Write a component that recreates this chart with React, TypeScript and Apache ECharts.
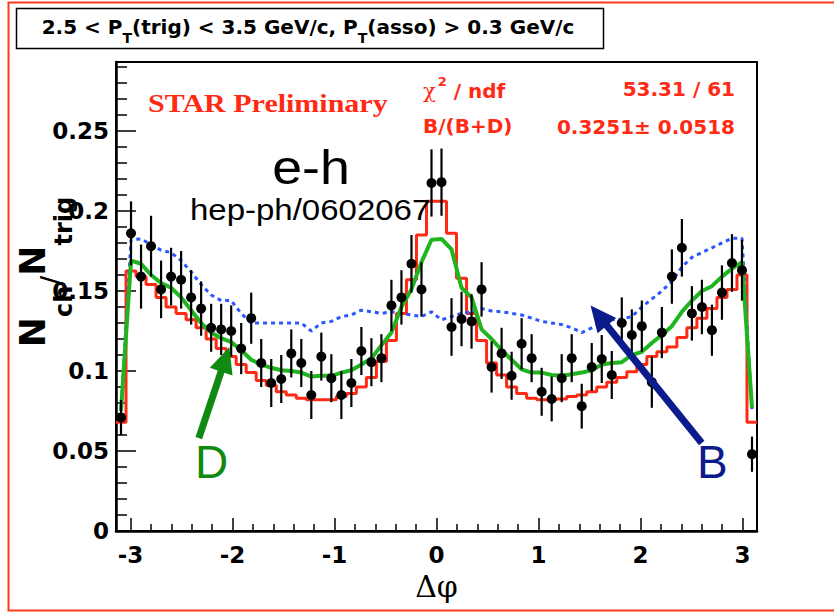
import React, { useEffect, useRef } from "react";
import * as echarts from "echarts";

// Δφ binning: 64 equal bins over [-π, π]
const PHI_LO = -Math.PI;
const PHI_HI = Math.PI;
const N_BINS = 64;

// measured e-h azimuthal correlation per trigger
const measured = [
  0.071, 0.186, 0.159, 0.178, 0.151, 0.159, 0.157, 0.146, 0.139, 0.127,
  0.126, 0.125, 0.114, 0.133, 0.105, 0.0925, 0.095, 0.111, 0.105, 0.085,
  0.109, 0.0955, 0.085, 0.0925, 0.1125, 0.1055, 0.108, 0.141, 0.146, 0.167,
  0.151, 0.2175, 0.218, 0.1275, 0.1325, 0.131, 0.151, 0.1025, 0.111, 0.097,
  0.117, 0.108, 0.087, 0.0825, 0.0955, 0.108, 0.078, 0.1025, 0.1075, 0.0975,
  0.13, 0.1225, 0.128, 0.093, 0.124, 0.159, 0.177, 0.136, 0.14, 0.1255,
  0.149, 0.1675, 0.163, 0.048,
];
const measuredErr = [
  0.011, 0.02, 0.02, 0.019, 0.018, 0.018, 0.018, 0.017, 0.017, 0.015,
  0.016, 0.016, 0.016, 0.016, 0.015, 0.015, 0.015, 0.015, 0.015, 0.015,
  0.015, 0.015, 0.015, 0.015, 0.015, 0.015, 0.015, 0.016, 0.017, 0.018,
  0.017, 0.021, 0.021, 0.018, 0.017, 0.017, 0.017, 0.016, 0.016, 0.015,
  0.016, 0.015, 0.015, 0.014, 0.015, 0.015, 0.014, 0.015, 0.015, 0.015,
  0.016, 0.016, 0.016, 0.016, 0.016, 0.017, 0.018, 0.017, 0.017, 0.016,
  0.017, 0.018, 0.019, 0.011,
];
// combined fit: B/(B+D) fraction of the B template plus the D template
const fitSum = [
  0.068, 0.1625, 0.159, 0.154, 0.146, 0.14, 0.136, 0.132, 0.127, 0.12,
  0.114, 0.109, 0.104, 0.099, 0.094, 0.091, 0.087, 0.085, 0.083, 0.082,
  0.082, 0.082, 0.084, 0.086, 0.09, 0.096, 0.106, 0.119, 0.136, 0.157,
  0.185, 0.206, 0.206, 0.186, 0.158, 0.136, 0.119, 0.105, 0.0975, 0.09,
  0.086, 0.083, 0.082, 0.082, 0.0825, 0.084, 0.085, 0.087, 0.09, 0.093,
  0.096, 0.0995, 0.104, 0.109, 0.112, 0.115, 0.121, 0.127, 0.133, 0.139,
  0.146, 0.151, 0.16, 0.068,
];
// D-decay electron template
const templateD = [
  0.075, 0.169, 0.167, 0.16, 0.155, 0.152, 0.146, 0.138, 0.13, 0.124,
  0.1205, 0.118, 0.113, 0.107, 0.104, 0.102, 0.1005, 0.1, 0.099, 0.0965,
  0.097, 0.097, 0.099, 0.1005, 0.104, 0.108, 0.116, 0.124, 0.14, 0.151,
  0.168, 0.182, 0.1825, 0.176, 0.152, 0.146, 0.126, 0.12, 0.113, 0.107,
  0.101, 0.099, 0.099, 0.0975, 0.097, 0.098, 0.099, 0.1005, 0.104, 0.105,
  0.1055, 0.11, 0.112, 0.1175, 0.1225, 0.128, 0.137, 0.144, 0.15, 0.153,
  0.159, 0.164, 0.168, 0.077,
];
// B-decay electron template
const templateB = [
  0.0755, 0.182, 0.1825, 0.179, 0.1755, 0.174, 0.169, 0.162, 0.154, 0.1475,
  0.144, 0.144, 0.136, 0.13, 0.13, 0.13, 0.13, 0.13, 0.13, 0.125,
  0.13, 0.131, 0.134, 0.135, 0.138, 0.137, 0.136, 0.137, 0.136, 0.135,
  0.134, 0.137, 0.132, 0.134, 0.136, 0.137, 0.139, 0.1375, 0.137, 0.136,
  0.135, 0.133, 0.131, 0.13, 0.129, 0.127, 0.124, 0.127, 0.13, 0.132,
  0.1325, 0.134, 0.14, 0.145, 0.15, 0.156, 0.165, 0.171, 0.174, 0.177,
  0.18, 0.183, 0.183, 0.0755,
];

// annotation arrows, in (Δφ, N) coordinates: tail -> tip
const arrowD = { from: [-2.33, 0.058], to: [-2.03, 0.115] };
const arrowB = { from: [2.6, 0.055], to: [1.51, 0.141] };

const Y_MAX = 0.2931;

const SANS_BOLD = "DejaVu Sans";
const RED = "#ff2a14";
const GREEN_LINE = "#1fb51f";
const GREEN_DARK = "#108a10";
const BLUE_DOT = "#2a58ff";
const NAVY = "#0b1b8c";

export default function App() {
  const ref = useRef<HTMLDivElement>(null);

  useEffect(() => {
    if (!ref.current) return;
    const chart = echarts.init(ref.current, undefined, { renderer: "svg" });

    const w = (PHI_HI - PHI_LO) / N_BINS;
    const centers = measured.map((_, i) => PHI_LO + (i + 0.5) * w);
    const fitSteps: number[][] = fitSum.map((v, i) => [PHI_LO + i * w, v]);
    fitSteps.push([PHI_HI, fitSum[fitSum.length - 1]]);

    const axisFont = { fontFamily: SANS_BOLD, fontWeight: "bold" as const, fontSize: 23, color: "#000" };

    chart.setOption({
      animation: false,
      backgroundColor: "#fff",
      grid: {
        left: 116,
        top: 62,
        width: 641,
        height: 469,
        show: true,
        borderColor: "#000",
        borderWidth: 2,
        backgroundColor: "transparent",
      },
      xAxis: {
        type: "value",
        min: PHI_LO,
        max: PHI_HI,
        splitNumber: 6,
        axisLine: { show: true, onZero: false, lineStyle: { color: "#000", width: 2.5 } },
        axisTick: { show: true, inside: true, length: 13, lineStyle: { color: "#000", width: 1.5 } },
        minorTick: { show: true, splitNumber: 5, length: 7, lineStyle: { color: "#000", width: 1.5 } },
        splitLine: { show: false },
        axisLabel: { ...axisFont, margin: 12, showMinLabel: false, showMaxLabel: false },
        name: "Δφ",
        nameLocation: "middle",
        nameGap: 40,
        nameTextStyle: { fontFamily: "DejaVu Serif", fontSize: 30, color: "#000" },
      },
      yAxis: {
        type: "value",
        min: 0,
        max: Y_MAX,
        interval: 0.05,
        axisLine: { show: true, onZero: false, lineStyle: { color: "#000", width: 2.5 } },
        axisTick: { show: true, inside: true, length: 20, lineStyle: { color: "#000", width: 1.5 } },
        minorTick: { show: true, splitNumber: 5, length: 11, lineStyle: { color: "#000", width: 1.5 } },
        splitLine: { show: false },
        axisLabel: { ...axisFont, margin: 7, showMaxLabel: false },
      },
      series: [
        {
          name: "fit",
          type: "line",
          step: "end",
          data: fitSteps,
          symbol: "none",
          lineStyle: { color: RED, width: 3 },
          z: 2,
          clip: true,
        },
        {
          name: "B",
          type: "line",
          data: centers.map((x, i) => [x, templateB[i]]),
          symbol: "none",
          lineStyle: { color: BLUE_DOT, width: 3, type: [4, 4] },
          z: 2,
          clip: true,
        },
        {
          name: "D",
          type: "line",
          data: centers.map((x, i) => [x, templateD[i]]),
          symbol: "none",
          lineStyle: { color: GREEN_LINE, width: 4 },
          z: 3,
          clip: true,
        },
        {
          name: "errors",
          type: "custom",
          data: centers.map((x, i) => [x, measured[i] - measuredErr[i], measured[i] + measuredErr[i]]),
          encode: { x: 0, y: [1, 2] },
          renderItem: (_params: any, api: any) => {
            const lo = api.coord([api.value(0), api.value(1)]);
            const hi = api.coord([api.value(0), api.value(2)]);
            return {
              type: "line",
              shape: { x1: lo[0], y1: lo[1], x2: hi[0], y2: hi[1] },
              style: { stroke: "#000", lineWidth: 2.2 },
            };
          },
          clip: true,
          z: 4,
        },
        {
          name: "data",
          type: "scatter",
          data: centers.map((x, i) => [x, measured[i]]),
          symbol: "circle",
          symbolSize: 10,
          itemStyle: { color: "#000", opacity: 1 },
          z: 5,
        },
      ],
    });

    const px = (p: number[]) => chart.convertToPixel({ gridIndex: 0 }, p) as number[];
    const arrow = (a: { from: number[]; to: number[] }, color: string) => {
      const f = px(a.from);
      const t = px(a.to);
      const dx = t[0] - f[0];
      const dy = t[1] - f[1];
      const len = Math.hypot(dx, dy);
      const ux = dx / len;
      const uy = dy / len;
      const nx = -uy;
      const ny = ux;
      const headLen = 26;
      const halfW = 12;
      const bx = t[0] - ux * headLen;
      const by = t[1] - uy * headLen;
      return [
        {
          type: "line",
          shape: { x1: f[0], y1: f[1], x2: bx + ux * 2, y2: by + uy * 2 },
          style: { stroke: color, lineWidth: 7 },
          z: 10,
        },
        {
          type: "polygon",
          shape: {
            points: [
              [t[0], t[1]],
              [bx + nx * halfW, by + ny * halfW],
              [bx - nx * halfW, by - ny * halfW],
            ],
          },
          style: { fill: color },
          z: 10,
        },
      ];
    };

    const statStyle = { fontFamily: SANS_BOLD, fontWeight: "bold", fontSize: 20, fill: RED };

    chart.setOption({
      graphic: [
        // page frame
        {
          type: "rect",
          shape: { x: 8.5, y: 2.5, width: 840, height: 608 },
          style: { fill: "none", stroke: "#ff3b1f", lineWidth: 2 },
          z: 0,
        },
        // kinematic selection box
        {
          type: "rect",
          shape: { x: 16.5, y: 8.5, width: 587, height: 40 },
          style: { fill: "#fff", stroke: "#000", lineWidth: 1.5 },
          z: 1,
        },
        {
          type: "text",
          x: 308,
          y: 28,
          style: {
            text: "{m|2.5 < P}{s|T}{m|(trig) < 3.5 GeV/c, P}{s|T}{m|(asso) > 0.3 GeV/c}",
            align: "center",
            verticalAlign: "middle",
            fill: "#000",
            rich: {
              m: { fontFamily: SANS_BOLD, fontWeight: "bold", fontSize: 20, lineHeight: 22, verticalAlign: "top" },
              s: { fontFamily: SANS_BOLD, fontWeight: "bold", fontSize: 14, lineHeight: 14, padding: [14, 0, 0, 0], verticalAlign: "top" },
            },
          },
          z: 2,
        },
        {
          type: "text",
          x: 148,
          y: 103,
          scaleX: 1.2,
          style: {
            text: "STAR Preliminary",
            fontFamily: "Liberation Serif",
            fontWeight: "bold",
            fontSize: 25,
            fill: RED,
            align: "left",
            verticalAlign: "middle",
          },
          z: 6,
        },
        {
          type: "text",
          x: 423,
          y: 88,
          style: {
            text: "{c|χ}{p|2}{m| / ndf}",
            align: "left",
            verticalAlign: "middle",
            fill: RED,
            rich: {
              c: { fontFamily: "DejaVu Serif", fontSize: 21, lineHeight: 26, verticalAlign: "bottom", fill: RED, padding: [0, 2, 0, 0] },
              p: { fontFamily: SANS_BOLD, fontWeight: "bold", fontSize: 13, lineHeight: 13, verticalAlign: "top", fill: RED },
              m: { fontFamily: SANS_BOLD, fontWeight: "bold", fontSize: 20, lineHeight: 26, verticalAlign: "bottom", fill: RED },
            },
          },
          z: 6,
        },
        {
          type: "text",
          x: 735,
          y: 89,
          style: { ...statStyle, text: "53.31 / 61", align: "right", verticalAlign: "middle" },
          z: 6,
        },
        {
          type: "text",
          x: 423,
          y: 126,
          style: { ...statStyle, text: "B/(B+D)", align: "left", verticalAlign: "middle" },
          z: 6,
        },
        {
          type: "text",
          x: 735,
          y: 127,
          style: { ...statStyle, text: "0.3251± 0.0518", align: "right", verticalAlign: "middle" },
          z: 6,
        },
        {
          type: "text",
          x: 311,
          y: 168,
          scaleX: 1.12,
          style: {
            text: "e-h",
            fontFamily: "Liberation Sans",
            fontSize: 48,
            fill: "#000",
            align: "center",
            verticalAlign: "middle",
          },
          z: 6,
        },
        {
          type: "text",
          x: 190,
          y: 210,
          scaleX: 1.1,
          style: {
            text: "hep-ph/0602067",
            fontFamily: "Liberation Sans",
            fontSize: 30,
            fill: "#000",
            align: "left",
            verticalAlign: "middle",
          },
          z: 6,
        },
        {
          type: "text",
          x: 195,
          y: 462,
          style: {
            text: "D",
            fontFamily: "Liberation Sans",
            fontSize: 46,
            fill: GREEN_DARK,
            align: "left",
            verticalAlign: "middle",
          },
          z: 6,
        },
        {
          type: "text",
          x: 697,
          y: 462,
          style: {
            text: "B",
            fontFamily: "Liberation Sans",
            fontSize: 46,
            fill: NAVY,
            align: "left",
            verticalAlign: "middle",
          },
          z: 6,
        },
        // y-axis title, N_ch / N_trig
        {
          type: "text",
          x: 34,
          y: 272,
          rotation: Math.PI / 2,
          style: {
            text: "{n|N}{s|ch}{l|/}{n|N}{s|trig}",
            align: "center",
            verticalAlign: "middle",
            fill: "#000",
            rich: {
              n: { fontFamily: SANS_BOLD, fontWeight: "bold", fontSize: 36, lineHeight: 40, verticalAlign: "top" },
              s: { fontFamily: SANS_BOLD, fontWeight: "bold", fontSize: 24, lineHeight: 24, padding: [38, 0, 0, 0], verticalAlign: "top" },
              l: { fontFamily: "DejaVu Sans", fontSize: 30, lineHeight: 30, padding: [22, 0, 0, 0], verticalAlign: "top" },
            },
          },
          z: 6,
        },
        ...arrow(arrowD, GREEN_DARK),
        ...arrow(arrowB, NAVY),
      ],
    });

    return () => chart.dispose();
  }, []);

  return (
    <div
      ref={ref}
      style={{ position: "fixed", left: 0, top: 0, width: 834, height: 612, background: "#fff" }}
    />
  );
}
